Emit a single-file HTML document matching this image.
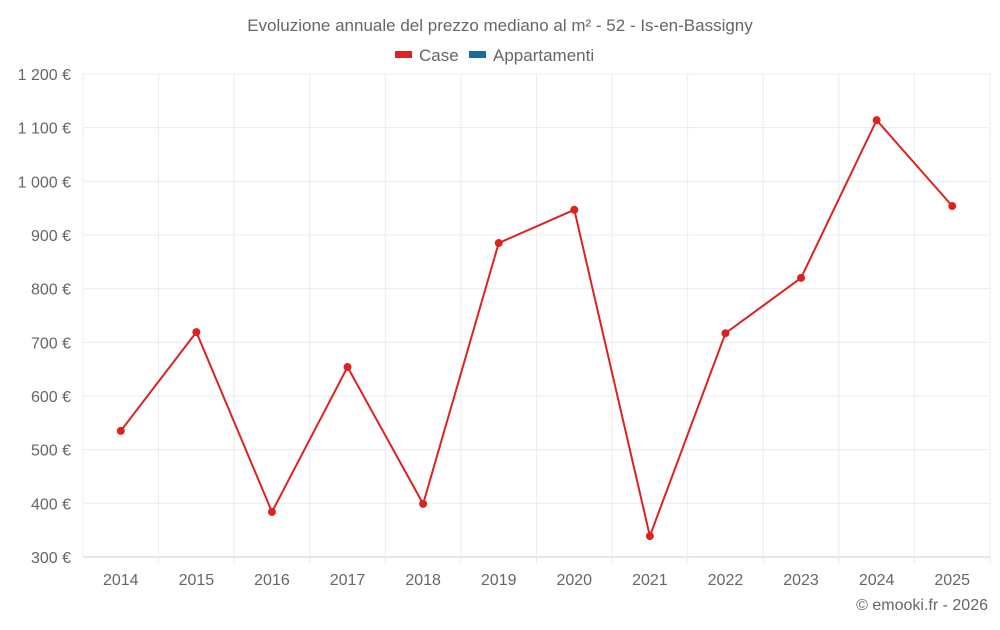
<!DOCTYPE html>
<html><head><meta charset="utf-8"><style>
body{margin:0;background:#fff;font-family:"Liberation Sans",sans-serif;}
svg text{font-family:"Liberation Sans",sans-serif;fill:#666;}
</style></head><body>
<svg id="chart" width="1000" height="625">
<text x="500" y="31" text-anchor="middle" font-size="17">Evoluzione annuale del prezzo mediano al m² - 52 - Is-en-Bassigny</text>
<g><rect x="395" y="51" width="17" height="7" fill="#dd2222"/><text x="419" y="61" font-size="17">Case</text></g>
<g><rect x="469" y="51" width="17" height="7" fill="#1a6aa0"/><text x="493" y="61" font-size="17">Appartamenti</text></g>
<g id="grid"></g><g id="axes"></g><g id="series"></g>
<text x="988" y="610" text-anchor="end" font-size="16">© emooki.fr - 2026</text>
</svg>
<script>
const years=[2014,2015,2016,2017,2018,2019,2020,2021,2022,2023,2024,2025];
const casePrices=[535,719,384,654,399,885,947,339,717,820,1114,954];
const yTicks=[300,400,500,600,700,800,900,1000,1100,1200];
const yTickLabels=["300 €","400 €","500 €","600 €","700 €","800 €","900 €","1 000 €","1 100 €","1 200 €"];
const L=83,R=990,T=74,B=557,ymin=300,ymax=1200;
const step=(R-L)/years.length;
const xs=i=>L+step*(i+0.5);
const ys=v=>B-(v-ymin)/(ymax-ymin)*(B-T);
const NS="http://www.w3.org/2000/svg";
const g=document.getElementById('grid'),ax=document.getElementById('axes'),s=document.getElementById('series');
function mk(tag,attrs,parent){const e=document.createElementNS(NS,tag);for(const k in attrs)e.setAttribute(k,attrs[k]);parent.appendChild(e);return e;}
yTicks.forEach((v,i)=>{
 const l=mk('line',{x1:L,x2:R,y1:ys(v),y2:ys(v),stroke:i==0?'#ccc':'#ececec'},g);
 
 
 const t=mk('text',{x:71,y:ys(v)+6,'text-anchor':'end','font-size':16},ax);
 t.textContent=yTickLabels[i];
 
 
});
for(let i=0;i<=years.length;i++){
 const l=mk('line',{x1:L+step*i,x2:L+step*i,y1:T,y2:B+(i==0?0:6),stroke:'#ececec'},g);
 
 
}
years.forEach((y,i)=>{
 const t=mk('text',{x:xs(i),y:585,'text-anchor':'middle','font-size':16},ax);
 t.textContent=y;
 
 
});
const p=mk('polyline',{points:casePrices.map((v,i)=>xs(i)+','+ys(v)).join(' '),fill:'none',stroke:'#dd2222','stroke-width':2},s);


casePrices.forEach((v,i)=>{
 const c=mk('circle',{cx:xs(i),cy:ys(v),r:4,fill:'#dd2222'},s);
 
 
});
</script>
</body></html>
